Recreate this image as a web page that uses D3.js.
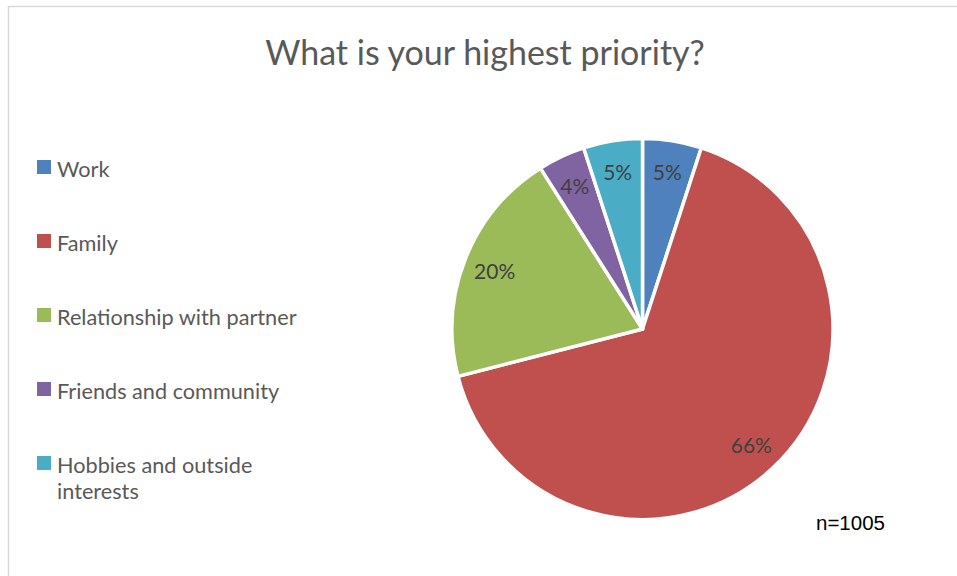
<!DOCTYPE html>
<html>
<head>
<meta charset="utf-8">
<script src="https://cdn.jsdelivr.net/npm/d3@7"></script>
<style>
  html, body { margin: 0; padding: 0; background: #ffffff; }
  svg { display: block; }
</style>
</head>
<body>
<script>
// Survey answers: share of respondents per priority (percent)
const categories = ["Work", "Family", "Relationship with partner", "Friends and community", "Hobbies and outside interests"];
const legendLines = [["Work"], ["Family"], ["Relationship with partner"], ["Friends and community"], ["Hobbies and outside", "interests"]];
const values = [5, 66, 20, 4, 5];
const colors = ["#4F81BD", "#C0504D", "#9BBB59", "#8064A2", "#4BACC6"];
const title = "What is your highest priority?";
const sampleNote = "n=1005";

const W = 957, H = 576;
const svg = d3.select("body").append("svg").attr("width", W).attr("height", H);

// chart frame (right and bottom edges fall outside the view)
svg.append("rect")
  .attr("x", 8.5).attr("y", 6.5)
  .attr("width", 980).attr("height", 600)
  .attr("fill", "#ffffff")
  .attr("stroke", "#d9d9d9").attr("stroke-width", 1.5);

// title
svg.append("text")
  .attr("x", 485).attr("y", 65)
  .attr("text-anchor", "middle")
  .attr("font-family", "Lato, 'Open Sans', sans-serif")
  .attr("font-size", 34)
  .attr("fill", "#595959")
  .text(title);

// legend
const legend = svg.append("g").attr("font-family", "Lato, 'Open Sans', sans-serif");
const rowY = d3.scalePoint().domain(categories).range([176.5, 472.5]);
categories.forEach((c, i) => {
  const y = rowY(c);
  legend.append("rect")
    .attr("x", 37).attr("y", y - 16.5)
    .attr("width", 14).attr("height", 14)
    .attr("fill", colors[i]);
  const t = legend.append("text")
    .attr("x", 57).attr("y", y)
    .attr("font-size", 21.7)
    .attr("fill", "#595959");
  legendLines[i].forEach((line, j) => {
    t.append("tspan").attr("x", 57).attr("dy", j === 0 ? 0 : 26).text(line);
  });
});

// pie
const cx = 642.5, cy = 329, R = 190.5;
const pie = d3.pie().sort(null).value(d => d).startAngle(0).endAngle(2 * Math.PI);
const arcs = pie(values);
const arc = d3.arc().innerRadius(0).outerRadius(R);
const labelArc = d3.arc().innerRadius(159).outerRadius(159);

const g = svg.append("g").attr("transform", `translate(${cx},${cy})`);
g.selectAll("path.slice")
  .data(arcs)
  .join("path")
  .attr("class", "slice")
  .attr("d", arc)
  .attr("fill", (d, i) => colors[i])
  .attr("stroke", "#ffffff")
  .attr("stroke-width", 3.5)
  .attr("stroke-linejoin", "round");

g.selectAll("text.lbl")
  .data(arcs)
  .join("text")
  .attr("class", "lbl")
  .attr("transform", d => `translate(${labelArc.centroid(d)})`)
  .attr("text-anchor", "middle")
  .attr("dominant-baseline", "central")
  .attr("font-family", "Lato, 'Open Sans', sans-serif")
  .attr("font-size", 21)
  .attr("fill", "#404040")
  .text(d => d3.format(".0f")(d.data) + "%");

// sample size note
svg.append("text")
  .attr("x", 816).attr("y", 530)
  .attr("font-family", "'Liberation Sans', Arial, sans-serif")
  .attr("font-size", 20.5)
  .attr("fill", "#000000")
  .text(sampleNote);
</script>
</body>
</html>
